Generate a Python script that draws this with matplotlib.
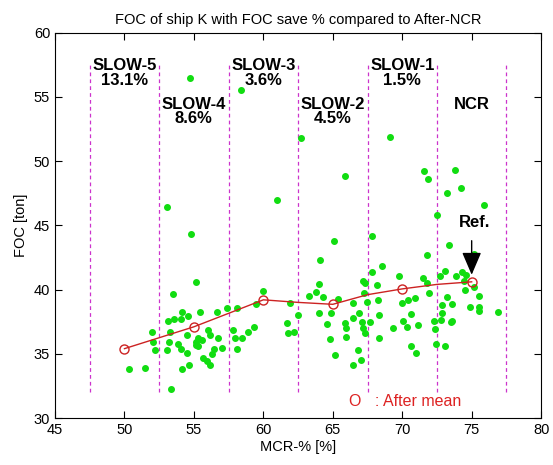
import matplotlib
matplotlib.use("Agg")
import matplotlib.pyplot as plt

plt.rcParams["font.family"] = ["Liberation Sans", "DejaVu Sans"]

# Scatter data: MCR-% vs FOC
mcr = [
    54.73, 58.4, 62.7, 53.05, 61.0, 54.8, 69.1, 65.9, 71.6, 71.85, 73.8, 74.2,
    73.2, 75.9, 72.5, 67.8, 65.1, 73.4, 64.1, 71.75, 75.2,
    55.16, 53.52, 54.13, 54.6, 53.17, 53.58, 54.06, 51.96, 53.28, 54.53, 52.04,
    53.24, 53.88, 55.14, 54.08, 52.2, 53.05, 54.49, 54.68, 54.13, 50.35, 51.48,
    53.33, 55.16,
    55.47, 56.65, 57.37, 58.13, 59.48, 59.96, 56.05, 56.17, 55.28, 55.61, 56.72,
    57.85, 57.97, 58.45, 58.93, 59.36, 55.33, 56.48, 57.0, 58.09, 56.33, 55.68,
    55.97, 56.17,
    64.04, 63.8, 63.32, 64.33, 65.41, 61.93, 66.45, 67.17, 67.33, 67.26, 62.46,
    64.04, 64.86, 61.69, 61.81, 62.22, 64.57, 65.89, 65.96, 65.96, 66.49, 66.92,
    67.1, 67.21, 67.33, 64.81, 65.17, 66.78, 67.02, 66.45,
    68.54, 67.82, 69.78, 68.18, 71.53, 71.78, 72.74, 73.05, 71.9, 70.94, 69.98,
    70.41, 68.29, 67.46, 73.22, 72.86, 68.34, 70.65, 72.86, 70.09, 70.34, 71.13,
    72.26, 73.53, 67.7, 69.33, 72.38, 72.81, 68.34, 70.65, 71.0, 72.45, 73.05,
    73.87, 74.3, 74.61, 74.42, 74.54, 75.19, 75.5, 73.58, 74.85, 75.5, 75.5,
    76.87, 73.58,
]
foc = [
    56.5, 55.5, 51.8, 46.4, 47.0, 44.3, 51.9, 48.8, 49.2, 48.6, 49.3, 47.9,
    47.5, 46.6, 45.8, 44.2, 43.75, 43.5, 42.3, 42.7, 42.8,
    40.57, 39.63, 38.28, 37.97, 37.55, 37.7, 37.7, 36.66, 36.66, 36.5, 35.94,
    35.94, 35.8, 35.94, 35.37, 35.29, 35.29, 35.1, 34.16, 33.8, 33.85, 33.9,
    32.29, 35.68,
    38.28, 38.28, 38.6, 38.54, 38.88, 39.92, 36.85, 36.5, 36.2, 36.07, 36.25,
    36.85, 36.25, 36.25, 36.66, 37.1, 35.63, 35.41, 35.47, 35.34, 35.02, 34.69,
    34.43, 34.16,
    40.41, 39.84, 39.53, 39.45, 39.27, 38.98, 38.93, 40.63, 40.49, 39.71, 38.02,
    38.15, 38.15, 37.37, 36.59, 36.72, 37.29, 37.37, 36.98, 36.33, 37.81, 38.15,
    37.5, 36.98, 36.59, 36.12, 34.9, 35.29, 34.51, 34.12,
    41.8, 41.35, 41.09, 40.37, 40.88, 40.49, 41.02, 41.46, 39.71, 39.32, 38.93,
    39.19, 39.19, 39.06, 39.45, 38.8, 38.02, 38.07, 38.15, 37.55, 37.11, 37.24,
    37.55, 37.5, 37.5, 37.03, 36.93, 37.63, 36.2, 35.63, 35.08, 35.73, 35.63,
    41.09, 41.35, 41.15, 40.63, 39.98, 40.16, 39.53, 38.85, 38.67, 38.67, 38.33,
    38.23, 37.55,
]

# After-mean line and circle markers
line_x = [50, 55, 60, 62.5, 65, 67.5, 70, 72.5, 75]
line_y = [35.4, 37.1, 39.2, 39.0, 38.85, 39.6, 40.05, 40.4, 40.6]
mean_x = [50, 55, 60, 65, 70, 75]
mean_y = [35.4, 37.1, 39.2, 38.85, 40.05, 40.6]

# Speed bands
band_edges = [47.5, 52.5, 57.5, 62.5, 67.5, 72.5, 77.5]
band_names = ["SLOW-5\n13.1%", "SLOW-4\n8.6%", "SLOW-3\n3.6%",
              "SLOW-2\n4.5%", "SLOW-1\n1.5%", "NCR"]
band_centers = [50, 55, 60, 65, 70, 75]
band_label_y = [58.0, 55.0, 58.0, 55.0, 58.0, 55.0]

fig = plt.figure(figsize=(5.53, 4.65), dpi=100)
ax = fig.add_axes([0.0995, 0.101, 0.879, 0.829])

for xe in band_edges:
    ax.plot([xe, xe], [32, 57.7], color="#cc33cc", lw=0.9, ls=(0, (3, 2.5)))

ax.plot(mcr, foc, "o", color="#11dd11", ms=4.0, mec="#11dd11", ls="none")
ax.plot(line_x, line_y, "-", color="#cc2222", lw=1.0)
ax.plot(mean_x, mean_y, "o", mfc="none", mec="#cc2222", ms=6.5, mew=1.0)

for cx, cy, name in zip(band_centers, band_label_y, band_names):
    ax.text(cx, cy, name, ha="center", va="top", fontsize=12,
            fontweight="bold", linespacing=0.95)

ax.text(75.2, 45.2, "Ref.", ha="center", va="center", fontsize=12,
        fontweight="bold")
ax.annotate("", xy=(75, 41.15), xytext=(75, 43.8),
            arrowprops=dict(arrowstyle="-|>,head_length=0.7,head_width=0.3",
                            color="k", lw=1.0, mutation_scale=20,
                            shrinkA=0, shrinkB=0))

ax.text(70.2, 31.3, "O   : After mean", ha="center", va="center",
        fontsize=11.5, color="#dd2222")

ax.set_xlim(45, 80)
ax.set_ylim(30, 60)
ax.set_xticks([45, 50, 55, 60, 65, 70, 75, 80])
ax.set_yticks([30, 35, 40, 45, 50, 55, 60])
ax.tick_params(direction="in", top=True, right=True, labelsize=10.5, length=5)

ax.set_title("FOC of ship K with FOC save % compared to After-NCR",
             fontsize=10.5, pad=6)
ax.set_xlabel("MCR-% [%]", fontsize=10.5, labelpad=2)
ax.set_ylabel("FOC [ton]", fontsize=10.5, labelpad=4)

fig.savefig("out.png", dpi=100)
